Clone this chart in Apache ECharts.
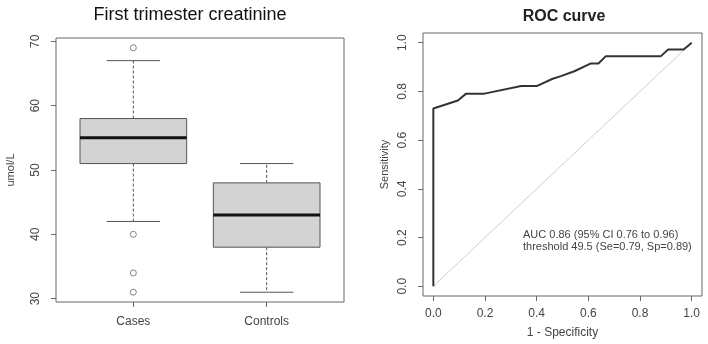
<!DOCTYPE html>
<html>
<head>
<meta charset="utf-8">
<script src="https://cdn.jsdelivr.net/npm/echarts@6/dist/echarts.min.js"></script>
<style>
html, body { margin: 0; padding: 0; background: #fff; }
#main { width: 708px; height: 344px; }
</style>
</head>
<body>
<div id="main"></div>
<script>
// left panel: boxplot of creatinine
var groups = ['Cases', 'Controls'];
// lower whisker, Q1, median, Q3, upper whisker
var boxStats = [
    [42, 51, 55, 58, 67],
    [31, 38, 43, 48, 51]
];
var outlierGroup = [1, 1, 1, 1];
var outlierValue = [69, 40, 34, 31];
var creatTicks = [30, 40, 50, 60, 70];

// right panel: ROC curve
var rocFpr  = [0, 0, 0.095, 0.127, 0.198, 0.340, 0.400, 0.462, 0.494, 0.546, 0.610, 0.639, 0.668, 0.881, 0.909, 0.969, 1];
var rocSens = [0, 0.73, 0.763, 0.791, 0.791, 0.822, 0.822, 0.852, 0.863, 0.883, 0.915, 0.915, 0.945, 0.945, 0.972, 0.972, 1];
var rocTicks = [0, 0.2, 0.4, 0.6, 0.8, 1];
var aucText = ['AUC 0.86 (95% CI 0.76 to 0.96)', 'threshold 49.5 (Se=0.79, Sp=0.89)'];

var FONT = '"Liberation Sans", Arial, sans-serif';
var INK = '#444';
var FRAME = '#666';

var chart = echarts.init(document.getElementById('main'), null, { renderer: 'canvas' });

function renderBox(params, api) {
    var x = api.value(0);
    var lo = api.coord([x, api.value(1)]);
    var q1 = api.coord([x, api.value(2)]);
    var med = api.coord([x, api.value(3)]);
    var q3 = api.coord([x, api.value(4)]);
    var hi = api.coord([x, api.value(5)]);
    var half = api.size([0.8, 0])[0] / 2;
    var cap = half / 2;
    var cx = med[0];
    var dash = { stroke: '#555', lineWidth: 1, lineDash: [3, 2] };
    var solid = { stroke: '#555', lineWidth: 1 };
    return {
        type: 'group',
        children: [
            { type: 'line', shape: { x1: cx, y1: q3[1], x2: cx, y2: hi[1] }, style: dash },
            { type: 'line', shape: { x1: cx, y1: q1[1], x2: cx, y2: lo[1] }, style: dash },
            { type: 'line', shape: { x1: cx - cap, y1: hi[1], x2: cx + cap, y2: hi[1] }, style: solid },
            { type: 'line', shape: { x1: cx - cap, y1: lo[1], x2: cx + cap, y2: lo[1] }, style: solid },
            { type: 'rect', shape: { x: cx - half, y: q3[1], width: half * 2, height: q1[1] - q3[1] },
              style: { fill: '#d3d3d3', stroke: '#555', lineWidth: 1 } },
            { type: 'line', shape: { x1: cx - half, y1: med[1], x2: cx + half, y2: med[1] },
              style: { stroke: '#111', lineWidth: 3 } }
        ]
    };
}

var boxData = boxStats.map(function (s, i) { return [i + 1].concat(s); });
var outlierData = outlierValue.map(function (v, i) { return [outlierGroup[i], v]; });
var rocData = rocFpr.map(function (v, i) { return [v, rocSens[i]]; });

var tickStyle = { show: true, inside: false, length: 5, lineStyle: { color: FRAME } };
var labelStyle = { color: INK, fontFamily: FONT, fontSize: 12 };
var hiddenLine = { show: false, onZero: false };

var option = {
    animation: false,
    backgroundColor: '#fff',
    textStyle: { fontFamily: FONT },
    grid: [
        { left: 56, top: 38, width: 288, height: 264, show: true, borderColor: FRAME, borderWidth: 1, backgroundColor: 'transparent' },
        { left: 423, top: 33, width: 279, height: 264, show: true, borderColor: FRAME, borderWidth: 1, backgroundColor: 'transparent' }
    ],
    xAxis: [
        {
            gridIndex: 0, type: 'value', min: 0.42, max: 2.58, position: 'bottom',
            axisLine: hiddenLine, splitLine: { show: false },
            axisTick: Object.assign({ customValues: [1, 2] }, tickStyle),
            axisLabel: Object.assign({ customValues: [1, 2], margin: 14,
                formatter: function (v) { return groups[Math.round(v) - 1]; } }, labelStyle)
        },
        {
            gridIndex: 1, type: 'value', min: -0.04, max: 1.04, position: 'bottom',
            name: '1 - Specificity', nameLocation: 'middle', nameGap: 31,
            nameTextStyle: { color: INK, fontFamily: FONT, fontSize: 12 },
            axisLine: hiddenLine, splitLine: { show: false },
            axisTick: Object.assign({ customValues: rocTicks }, tickStyle),
            axisLabel: Object.assign({ customValues: rocTicks, margin: 12,
                formatter: function (v) { return v.toFixed(1); } }, labelStyle)
        }
    ],
    yAxis: [
        {
            gridIndex: 0, type: 'value', min: 29.48, max: 70.52, position: 'left',
            name: 'umol/L', nameLocation: 'middle', nameGap: 40,
            nameTextStyle: { color: INK, fontFamily: FONT, fontSize: 11 },
            axisLine: hiddenLine, splitLine: { show: false },
            axisTick: Object.assign({ customValues: creatTicks }, tickStyle),
            axisLabel: Object.assign({ customValues: creatTicks, margin: 14, rotate: 90 }, labelStyle)
        },
        {
            gridIndex: 1, type: 'value', min: -0.04, max: 1.04, position: 'left',
            name: 'Sensitivity', nameLocation: 'middle', nameGap: 33,
            nameTextStyle: { color: INK, fontFamily: FONT, fontSize: 11 },
            axisLine: hiddenLine, splitLine: { show: false },
            axisTick: Object.assign({ customValues: rocTicks }, tickStyle),
            axisLabel: Object.assign({ customValues: rocTicks, margin: 14, rotate: 90,
                formatter: function (v) { return v.toFixed(1); } }, labelStyle)
        }
    ],
    series: [
        {
            type: 'custom', xAxisIndex: 0, yAxisIndex: 0,
            renderItem: renderBox, data: boxData,
            encode: { x: 0, y: [1, 2, 3, 4, 5] }
        },
        {
            type: 'scatter', xAxisIndex: 0, yAxisIndex: 0,
            symbol: 'circle', symbolSize: 6,
            itemStyle: { color: '#fff', borderColor: '#666', borderWidth: 1 },
            data: outlierData
        },
        {
            type: 'line', xAxisIndex: 1, yAxisIndex: 1,
            data: [[0, 0], [1, 1]], symbol: 'none',
            lineStyle: { color: '#cfcfcf', width: 1 }
        },
        {
            type: 'line', xAxisIndex: 1, yAxisIndex: 1,
            data: rocData, symbol: 'none',
            lineStyle: { color: '#333', width: 2 }
        }
    ],
    graphic: [
        { type: 'text', x: 190, y: 15, style: { text: 'First trimester creatinine', fontFamily: FONT, fontSize: 18,
            fill: '#111', align: 'center', verticalAlign: 'middle' } },
        { type: 'text', x: 564, y: 17, style: { text: 'ROC curve', fontFamily: FONT, fontSize: 16, fontWeight: 'bold',
            fill: '#222', align: 'center', verticalAlign: 'middle' } },
        { type: 'text', x: 523, y: 229, style: { text: aucText.join('\n'), fontFamily: FONT, fontSize: 11,
            lineHeight: 12, fill: INK, align: 'left', verticalAlign: 'top' } }
    ]
};

chart.setOption(option);
</script>
</body>
</html>
